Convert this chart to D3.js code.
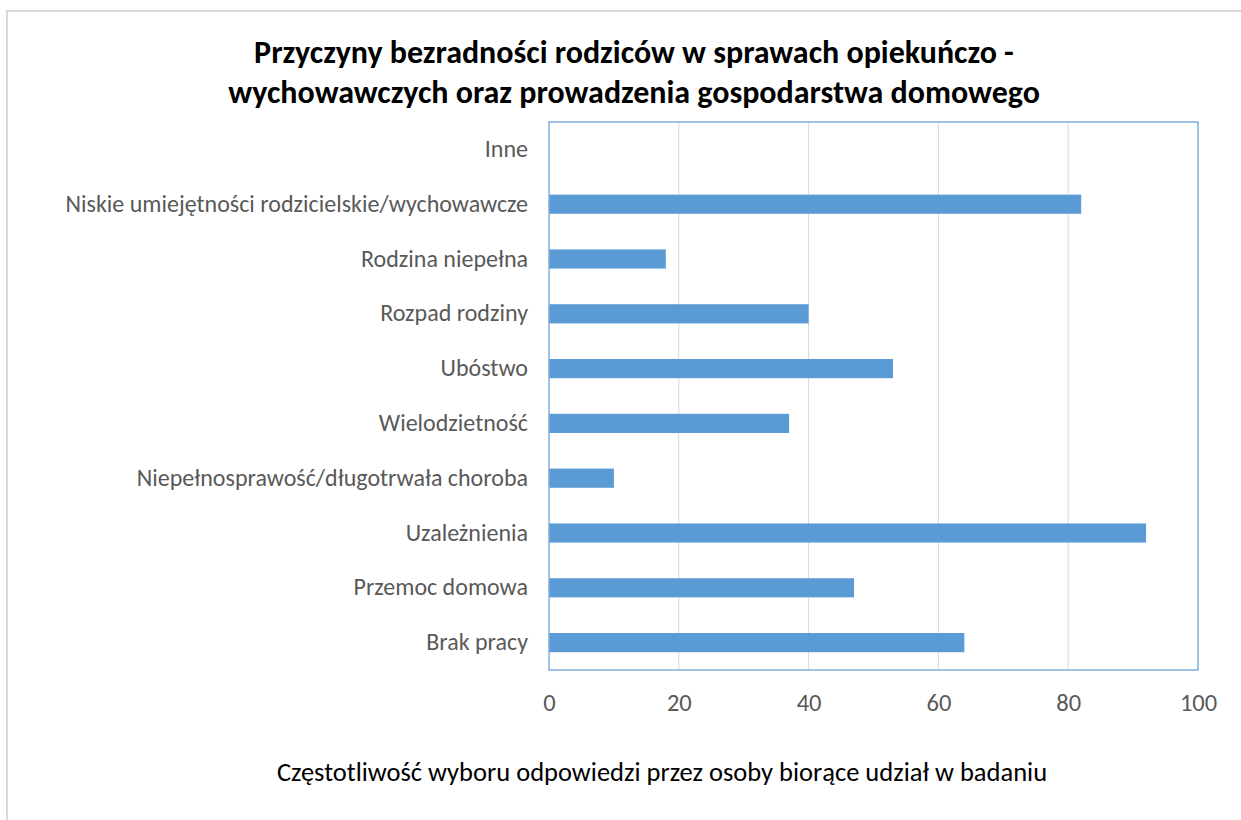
<!DOCTYPE html>
<html>
<head>
<meta charset="utf-8">
<script src="https://cdn.jsdelivr.net/npm/d3@7"></script>
<style>
  body { margin: 0; background: #fff; }
  svg { display: block; }
</style>
</head>
<body>
<div class="canvas"></div>
<script>
const categories = [
  "Inne",
  "Niskie umiejętności rodzicielskie/wychowawcze",
  "Rodzina niepełna",
  "Rozpad rodziny",
  "Ubóstwo",
  "Wielodzietność",
  "Niepełnosprawość/długotrwała choroba",
  "Uzależnienia",
  "Przemoc domowa",
  "Brak pracy"
];
const values = [0, 82, 18, 40, 53, 37, 10, 92, 47, 64];
const xTicks = [0, 20, 40, 60, 80, 100];
const titleLines = [
  "Przyczyny bezradności rodziców w sprawach opiekuńczo -",
  "wychowawczych oraz prowadzenia gospodarstwa domowego"
];
const xTitle = "Częstotliwość wyboru odpowiedzi przez osoby biorące udział w badaniu";

const svgWidth = 1241;
const svgHeight = 820;
const margin = { t: 122, r: 43, b: 150, l: 549 };
const gWidth = svgWidth - margin.l - margin.r;
const gHeight = svgHeight - margin.t - margin.b;
const font = "Carlito, Calibri, 'Open Sans', sans-serif";

const svg = d3
  .select(".canvas")
  .append("svg")
  .attr("width", svgWidth)
  .attr("height", svgHeight);

// outer frame (only top/left visible)
svg.append("rect")
  .attr("x", 7).attr("y", 11)
  .attr("width", svgWidth).attr("height", svgHeight)
  .attr("fill", "#fff")
  .attr("stroke", "#d9d9d9")
  .attr("stroke-width", 2);

svg.append("g")
  .selectAll("text")
  .data(titleLines)
  .enter()
  .append("text")
  .attr("x", 634)
  .attr("y", (d, i) => 63 + i * 40)
  .attr("text-anchor", "middle")
  .attr("font-family", font)
  .attr("font-weight", "bold")
  .attr("font-size", 32)
  .attr("fill", "#000")
  .text(d => d);

const g = svg
  .append("g")
  .attr("transform", `translate(${margin.l}, ${margin.t})`);

const x = d3.scaleLinear().domain([0, 100]).range([0, gWidth]);
const y = d3.scaleBand().domain(categories).range([0, gHeight]).paddingInner(0.65).paddingOuter(0.325);

// gridlines
g.append("g")
  .selectAll("line")
  .data(xTicks.slice(1, -1))
  .enter()
  .append("line")
  .attr("x1", d => x(d)).attr("x2", d => x(d))
  .attr("y1", 0).attr("y2", gHeight)
  .attr("stroke", "#d9d9d9")
  .attr("stroke-width", 1);

g.append("g")
  .selectAll("rect")
  .data(values)
  .enter()
  .append("rect")
  .attr("x", x(0))
  .attr("y", (d, i) => y(categories[i]))
  .attr("width", d => x(d) - x(0))
  .attr("height", y.bandwidth())
  .attr("fill", "#5b9bd5");

// plot border
g.append("rect")
  .attr("x", 0).attr("y", 0)
  .attr("width", gWidth).attr("height", gHeight)
  .attr("fill", "none")
  .attr("stroke", "#7fb0de")
  .attr("stroke-width", 1.5);

const yAxis = d3.axisLeft(y).tickSize(0).tickPadding(21);
const yAxisGroup = g.append("g").call(yAxis);
yAxisGroup.select(".domain").remove();
yAxisGroup.selectAll("text")
  .attr("font-family", font)
  .attr("font-size", 24)
  .attr("fill", "#595959");

const xAxis = d3.axisBottom(x).tickValues(xTicks).tickSize(0).tickPadding(24);
const xAxisGroup = g.append("g")
  .attr("transform", `translate(0, ${gHeight})`)
  .call(xAxis);
xAxisGroup.select(".domain").remove();
xAxisGroup.selectAll("text")
  .attr("font-family", font)
  .attr("font-size", 24.5)
  .attr("fill", "#595959");

svg.append("text")
  .attr("x", 662)
  .attr("y", 781)
  .attr("text-anchor", "middle")
  .attr("font-family", font)
  .attr("font-size", 26.5)
  .attr("fill", "#000")
  .text(xTitle);
</script>
</body>
</html>
